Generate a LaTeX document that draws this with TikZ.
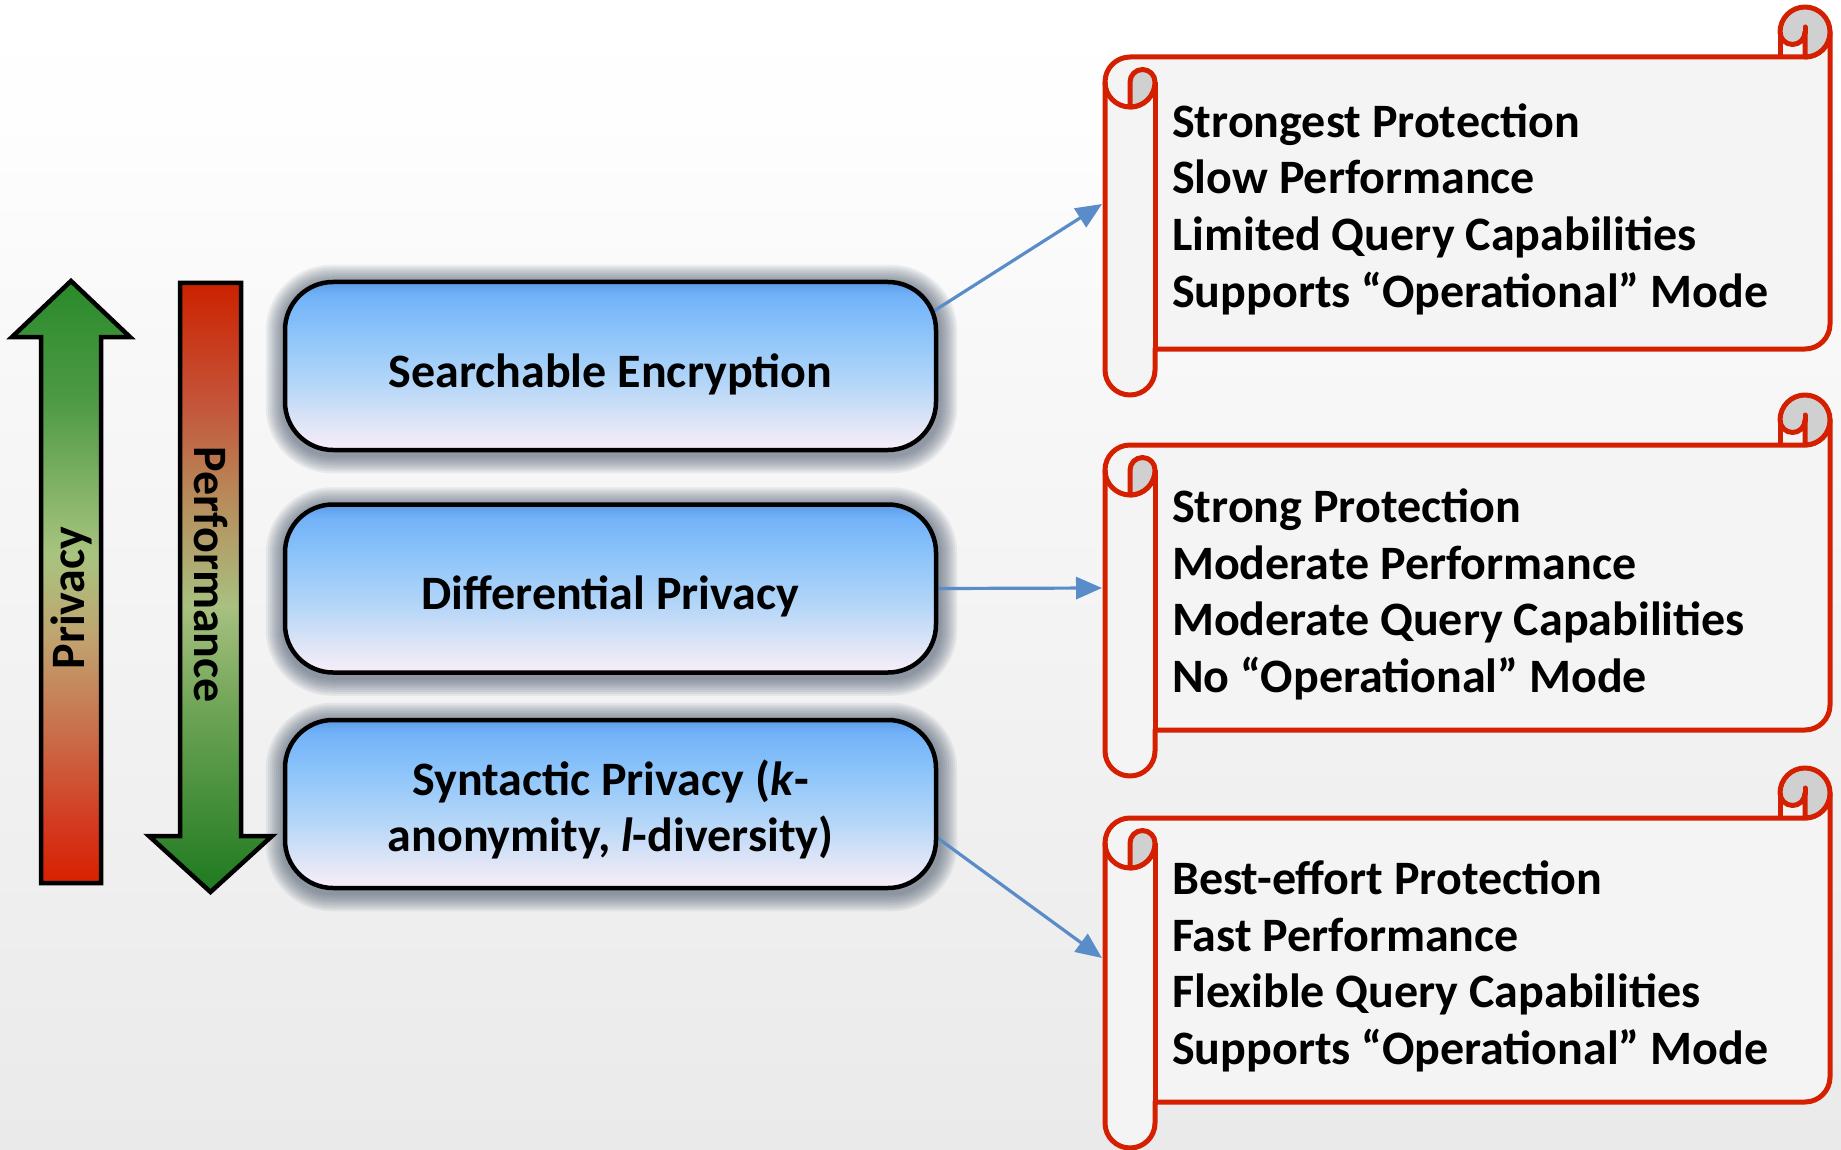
\documentclass[tikz,border=0pt]{standalone}
\usepackage{fontspec}
\setmainfont{Carlito}
\usetikzlibrary{arrows.meta,calc}
\pgfdeclarelayer{bg}\pgfdeclarelayer{mid}
\pgfsetlayers{bg,mid,main}

\definecolor{scrollred}{HTML}{D42000}
\definecolor{scrollfill}{HTML}{F4F4F4}
\definecolor{curlgray}{HTML}{D0D0D0}
\definecolor{connblue}{HTML}{5A8CCA}
\definecolor{glowc}{HTML}{3A4A60}
% privacy gradient
\definecolor{prA}{HTML}{D82000}\definecolor{prB}{HTML}{D43A20}\definecolor{prC}{HTML}{C8754F}
\definecolor{prD}{HTML}{C0A470}\definecolor{prE}{HTML}{A8C47E}\definecolor{prF}{HTML}{4E9A45}
\definecolor{prG}{HTML}{2A8A2A}
\pgfdeclareverticalshading{privgrad}{100bp}{color(0bp)=(prA); color(25bp)=(prA); color(30bp)=(prB); color(38.5bp)=(prC); color(45.5bp)=(prD); color(52.3bp)=(prE); color(65bp)=(prF); color(75bp)=(prG); color(100bp)=(prG)}
% performance gradient
\definecolor{peA}{HTML}{1E7A1E}\definecolor{peB}{HTML}{6EA456}\definecolor{peC}{HTML}{A8C080}
\definecolor{peD}{HTML}{B88A5A}\definecolor{peE}{HTML}{C4553A}\definecolor{peF}{HTML}{CC2200}
\pgfdeclareverticalshading{perfgrad}{100bp}{color(0bp)=(peA); color(25bp)=(peA); color(40bp)=(peB); color(48.5bp)=(peC); color(57.5bp)=(peD); color(65bp)=(peE); color(75bp)=(peF); color(100bp)=(peF)}
% box gradient
\definecolor{bxA}{HTML}{F8EEFA}\definecolor{bxB}{HTML}{E2E6F6}\definecolor{bxC}{HTML}{B4D6F8}
\definecolor{bxD}{HTML}{8CC4FA}\definecolor{bxE}{HTML}{72B2F8}\definecolor{bxF}{HTML}{5C9CE6}
\pgfdeclareverticalshading{boxgrad}{100bp}{color(0bp)=(bxA); color(25bp)=(bxA); color(32bp)=(bxB); color(45bp)=(bxC); color(60bp)=(bxD); color(71bp)=(bxE); color(75bp)=(bxF); color(100bp)=(bxF)}
% background gradient
\definecolor{bgA}{HTML}{EAEAEA}\definecolor{bgB}{HTML}{F2F2F2}\definecolor{bgC}{HTML}{F8F8F8}\definecolor{bgD}{HTML}{FEFEFE}
\pgfdeclareverticalshading{bggrad}{100bp}{color(0bp)=(bgA); color(25bp)=(bgA); color(45bp)=(bgB); color(60bp)=(bgC); color(70bp)=(bgD); color(75bp)=(white); color(100bp)=(white)}

\newcommand\lowertext[1]{\raisebox{-8pt}[\height][\depth]{#1}}

\newcommand\drawscroll[4]{%
\begingroup
\def\sL{#1}\def\sT{#2}\def\sR{#3}\def\sB{#4}%
\fill[scrollfill] ({\sR-50},{\sT-25}) rectangle ({\sR-25},\sT);
\draw[scrollline, fill=scrollfill] ({\sL+25},\sT) -- ({\sR-25},\sT) arc[start angle=90,end angle=0,radius=25] -- (\sR,{\sB-25}) arc[start angle=0,end angle=90,radius=25] -- ({\sL+50},\sB) -- ({\sL+50},{\sB+21}) arc[start angle=0,end angle=180,radius=25] -- (\sL,{\sT+25}) arc[start angle=180,end angle=270,radius=25] -- cycle;
\draw[scrollline] ({\sL+50},{\sT+25}) -- ({\sL+50},\sB);
\draw[scrollline] (\sL,{\sT+25}) arc[start angle=180,end angle=0,radius=25];
\draw[scrollline, fill=curlgray] ({\sL+25},{\sT+50}) -- ({\sL+25},{\sT+25}) arc[start angle=180,end angle=360,radius=12.5] arc[start angle=0,end angle=90,radius=25] -- cycle;
\draw[scrollline, fill=curlgray] ({\sR-50},{\sT-25}) arc[start angle=180,end angle=360,radius=25] arc[start angle=0,end angle=90,radius=25] -- ({\sR-25},{\sT-25}) arc[start angle=0,end angle=180,radius=12.5] -- cycle;
\draw[scrollline] ({\sR-50},{\sT-25}) -- ({\sR-50},\sT);
\draw[scrollline, line cap=round] ({\sR-25},{\sT-24}) -- ({\sR-25},{\sT-30});
\endgroup}

\begin{document}
\begin{tikzpicture}[x=1pt,y=-1pt,
  boxstyle/.style={draw=black, line width=4.5pt, rounded corners=48pt, minimum width=651pt, minimum height=168pt, shade, shading=boxgrad, font=\bfseries\fontsize{48pt}{56.5pt}\selectfont, inner sep=0pt},
  stext/.style={anchor=base west, inner sep=0pt, font=\bfseries\fontsize{48pt}{56.5pt}\selectfont},
  conn/.style={draw=connblue, line width=3.2pt, -{Triangle[length=26pt,width=22pt]}, shorten <=-12pt},
  scrollline/.style={draw=scrollred, line width=5pt, line join=round},
  bigarrow/.style={draw=black, line width=4.5pt, line join=miter},
  arrowtext/.style={font=\bfseries\fontsize{48pt}{56pt}\selectfont, inner sep=0pt}
]
\useasboundingbox (0,0) rectangle (1841,1150);

% boxes
\node[boxstyle] (box1) at (610.5,366) {\lowertext{Searchable Encryption}};
\node[boxstyle] (box2) at (610.5,588.5) {\lowertext{Differential Privacy}};
\node[boxstyle] (box3) at (610.5,804) {\lowertext{\begin{tabular}{@{}c@{}}Syntactic Privacy (\textit{k}-\\anonymity, \textit{l}-diversity)\end{tabular}}};

\begin{pgfonlayer}{bg}
\shade[shading=bggrad] (0,0) rectangle (1841,1150);
\foreach \b in {box1,box2,box3}{
  \foreach \e in {2,4,...,18}{
    \fill[glowc, opacity=0.08, rounded corners={(48+\e)*1pt}] ($(\b.north west)+(-\e+1,-\e+3)$) rectangle ($(\b.south east)+(\e+1,\e+3)$);
  }
}
\end{pgfonlayer}

% big arrows
\shadedraw[bigarrow, shading=privgrad] (71,281) -- (130,337) -- (101,337) -- (101,883) -- (41,883) -- (41,337) -- (12,337) -- cycle;
\shadedraw[bigarrow, shading=perfgrad] (180,283) -- (241,283) -- (241,836) -- (272,836) -- (210.5,892) -- (149,836) -- (180,836) -- cycle;
\node[arrowtext, rotate=90] (privt) at (71,598) {Privacy};
\node[arrowtext, rotate=-90] (perft) at (210.5,575) {Performance};

% scrolls
\drawscroll{1105}{57}{1830}{349}
\drawscroll{1105}{445}{1830}{730}
\drawscroll{1105}{818}{1830}{1102}

\coordinate (s1in) at (1102,204);
\coordinate (s2in) at (1102,588);
\coordinate (s3in) at (1102,958);

\foreach \t [count=\i] in {Strongest Protection, Slow Performance, Limited Query Capabilities, Supports “Operational” Mode}
  \node[stext] (s1l\i) at (1172,{137.5+56.5*(\i-1)}) {\t};
\foreach \t [count=\i] in {Strong Protection, Moderate Performance, Moderate Query Capabilities, No “Operational” Mode}
  \node[stext] (s2l\i) at (1172,{522.5+56.5*(\i-1)}) {\t};
\foreach \t [count=\i] in {Best-effort Protection, Fast Performance, Flexible Query Capabilities, Supports “Operational” Mode}
  \node[stext] (s3l\i) at (1172,{894.5+56.5*(\i-1)}) {\t};

\begin{pgfonlayer}{mid}
\draw[conn] (box1.10) -- (s1in);
\draw[conn] (box2.east) -- (s2in);
\draw[conn] (box3.-6) -- (s3in);
\end{pgfonlayer}
\end{tikzpicture}
\end{document}
